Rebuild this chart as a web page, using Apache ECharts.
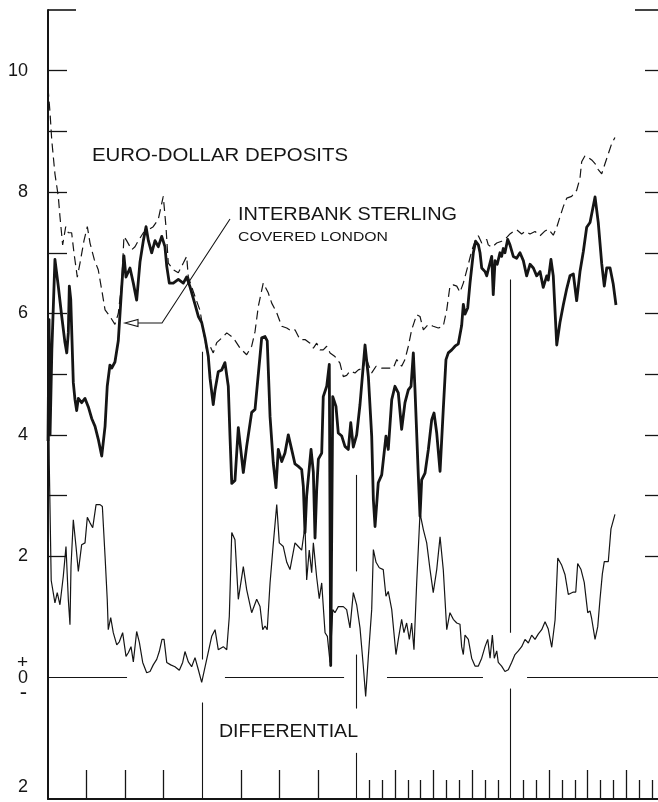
<!DOCTYPE html>
<html><head><meta charset="utf-8">
<script src="https://cdn.jsdelivr.net/npm/echarts@6/dist/echarts.min.js"></script>
<style>html,body{margin:0;padding:0;background:#fff}#c{width:658px;height:802px}</style>
</head><body><div id="c"></div>
<script>
// x = months from start of chart, y = per cent per annum
const euroDollar = [[0,9.72],[0.16,9.3],[0.29,8.86],[0.54,8.3],[0.8,7.93],[0.93,7.6],[1.14,7.13],[1.38,7.43],[1.58,7.33],[1.84,7.33],[2.02,7.0],[2.28,6.6],[2.49,6.83],[2.8,7.2],[3.06,7.43],[3.27,7.16],[3.6,6.89],[3.91,6.72],[4.18,6.39],[4.44,6.06],[4.82,5.95],[5.21,5.82],[5.47,6.0],[5.74,6.5],[5.91,7.27],[6.12,7.2],[6.51,7.05],[6.77,7.1],[7.03,7.2],[7.42,7.33],[7.81,7.38],[8.19,7.43],[8.58,7.55],[8.97,7.93],[9.18,7.43],[9.36,6.83],[9.75,6.72],[10.14,6.67],[10.53,6.83],[10.79,6.94],[10.92,6.6],[11.18,6.44],[11.44,6.28],[11.83,6.05],[12.1,5.7],[12.35,5.4],[12.61,5.46],[12.86,5.35],[13.13,5.52],[13.64,5.62],[13.91,5.68],[14.42,5.6],[14.94,5.43],[15.46,5.32],[15.85,5.46],[16.11,5.7],[16.37,6.12],[16.75,6.5],[17.14,6.34],[17.41,6.17],[17.8,6.01],[18.19,5.79],[18.58,5.76],[18.96,5.71],[19.22,5.73],[19.61,5.57],[20.0,5.57],[20.39,5.51],[20.65,5.43],[20.91,5.51],[21.17,5.4],[21.42,5.4],[21.69,5.46],[21.95,5.35],[22.33,5.29],[22.72,5.18],[22.98,4.96],[23.24,4.98],[23.5,5.05],[23.89,5.02],[24.15,5.07],[24.54,5.1],[24.72,5.3],[24.93,5.16],[25.19,5.02],[25.53,5.13],[25.97,5.1],[26.48,5.1],[26.87,5.1],[27.14,5.24],[27.52,5.13],[27.78,5.24],[28.04,5.46],[28.3,5.73],[28.69,5.98],[28.95,5.95],[29.21,5.73],[29.6,5.82],[29.98,5.79],[30.37,5.76],[30.76,5.79],[31.03,6.06],[31.28,6.45],[31.54,6.47],[31.81,6.45],[32.06,6.35],[32.32,6.5],[32.71,6.81],[32.97,7.03],[33.23,7.19],[33.49,7.28],[33.75,7.16],[34.14,7.22],[34.26,7.13],[34.53,7.09],[34.92,7.16],[35.3,7.19],[35.69,7.25],[35.95,7.31],[36.21,7.35],[36.47,7.38],[36.86,7.31],[37.12,7.35],[37.51,7.31],[37.9,7.35],[38.29,7.28],[38.68,7.36],[38.93,7.39],[39.32,7.29],[39.59,7.42],[39.84,7.59],[40.1,7.76],[40.37,7.9],[40.75,7.93],[41.14,8.03],[41.4,8.23],[41.53,8.5],[41.79,8.6],[42.05,8.57],[42.31,8.53],[42.57,8.47],[42.82,8.37],[43.09,8.3],[43.35,8.47],[43.6,8.63],[43.87,8.8],[44.12,8.9]];

const sterlingCovered = [[0,3.9],[0.08,5.9],[0.16,4.0],[0.3,5.4],[0.54,6.89],[0.8,6.45],[1.07,5.95],[1.32,5.52],[1.46,5.35],[1.58,5.68],[1.66,6.45],[1.77,6.23],[1.97,4.86],[2.1,4.58],[2.23,4.4],[2.36,4.6],[2.62,4.53],[2.88,4.6],[3.14,4.46],[3.4,4.27],[3.66,4.14],[3.91,3.93],[4.18,3.65],[4.44,4.14],[4.61,4.8],[4.82,5.15],[4.96,5.1],[5.21,5.2],[5.47,5.55],[5.74,6.45],[5.91,6.95],[6.07,6.6],[6.38,6.75],[6.64,6.5],[6.9,6.22],[7.16,6.85],[7.42,7.2],[7.63,7.43],[7.81,7.2],[8.07,7.0],[8.33,7.2],[8.58,7.1],[8.85,7.27],[9.1,7.1],[9.24,6.78],[9.44,6.5],[9.75,6.5],[10.14,6.56],[10.53,6.5],[10.79,6.6],[11.05,6.44],[11.44,6.15],[11.7,5.95],[11.96,5.85],[12.22,5.6],[12.47,5.3],[12.61,4.93],[12.86,4.5],[13.0,4.74],[13.25,5.04],[13.52,5.07],[13.77,5.19],[14.03,4.8],[14.16,3.99],[14.3,3.2],[14.55,3.25],[14.81,4.12],[15.2,3.38],[15.46,3.81],[15.85,4.37],[16.11,4.42],[16.24,4.4],[16.5,5.3],[16.63,5.6],[16.89,5.62],[17.06,5.55],[17.28,4.3],[17.53,3.54],[17.74,3.13],[17.92,3.76],[18.19,3.56],[18.44,3.7],[18.7,4.0],[18.96,3.76],[19.22,3.52],[19.48,3.48],[19.74,3.43],[19.87,3.15],[20.0,2.39],[20.13,3.0],[20.26,3.0],[20.47,3.76],[20.65,3.38],[20.78,2.3],[20.91,3.1],[21.04,3.6],[21.3,3.7],[21.42,4.63],[21.69,4.8],[21.89,5.16],[22.0,0.2],[22.16,4.63],[22.41,4.47],[22.59,4.03],[22.86,3.98],[23.11,3.81],[23.37,3.76],[23.56,4.2],[23.76,3.8],[24.02,4.0],[24.28,4.5],[24.67,5.48],[24.93,4.96],[25.19,3.98],[25.32,2.93],[25.45,2.49],[25.7,3.21],[25.97,3.34],[26.09,3.32],[26.3,3.98],[26.48,3.76],[26.75,4.58],[27.0,4.8],[27.26,4.69],[27.52,4.09],[27.78,4.53],[28.04,4.74],[28.25,4.8],[28.43,5.35],[28.56,4.74],[28.82,3.32],[28.95,2.66],[29.08,3.26],[29.34,3.37],[29.6,3.76],[29.86,4.25],[30.04,4.36],[30.25,4.03],[30.51,3.4],[30.76,4.42],[30.97,5.24],[31.15,5.35],[31.42,5.4],[31.67,5.46],[31.93,5.5],[32.19,5.8],[32.32,6.15],[32.45,5.99],[32.66,6.09],[32.84,6.5],[33.1,7.0],[33.28,7.19],[33.49,7.13],[33.62,7.0],[33.75,6.75],[34.01,6.69],[34.14,6.62],[34.26,6.72],[34.4,6.75],[34.53,6.94],[34.65,6.31],[34.79,6.87],[34.96,6.81],[35.17,7.0],[35.3,6.94],[35.43,7.07],[35.56,7.0],[35.77,7.22],[35.95,7.13],[36.21,6.94],[36.47,6.91],[36.73,7.0],[36.99,6.87],[37.25,6.62],[37.51,6.81],[37.77,6.75],[38.03,6.62],[38.29,6.69],[38.54,6.43],[38.81,6.62],[38.93,6.55],[39.14,6.89],[39.32,6.62],[39.59,5.48],[39.84,5.85],[40.1,6.14],[40.37,6.41],[40.62,6.62],[40.88,6.65],[41.14,6.21],[41.4,6.69],[41.66,7.02],[41.92,7.42],[42.18,7.5],[42.31,7.5],[42.57,7.92],[42.82,7.5],[43.09,6.82],[43.29,6.45],[43.48,6.75],[43.74,6.75],[43.99,6.48],[44.2,6.14]];

const differential = [[0,5.8],[0.1,3.5],[0.25,1.6],[0.54,1.23],[0.72,1.4],[0.93,1.2],[1.19,1.67],[1.4,2.16],[1.58,1.29],[1.71,0.87],[1.79,1.83],[1.97,2.6],[2.18,2.16],[2.36,1.75],[2.62,2.19],[2.88,2.22],[3.06,2.64],[3.27,2.55],[3.48,2.47],[3.74,2.85],[4.05,2.85],[4.23,2.82],[4.44,2.0],[4.61,1.29],[4.69,0.79],[4.88,0.99],[5.08,0.74],[5.35,0.54],[5.55,0.59],[5.81,0.74],[6.07,0.35],[6.25,0.41],[6.46,0.51],[6.64,0.26],[6.9,0.76],[7.11,0.58],[7.37,0.25],[7.68,0.08],[7.94,0.1],[8.19,0.21],[8.46,0.3],[8.66,0.43],[8.87,0.63],[9.03,0.63],[9.24,0.25],[9.55,0.21],[9.88,0.18],[10.22,0.12],[10.48,0.25],[10.66,0.43],[10.92,0.26],[11.18,0.18],[11.44,0.33],[11.7,0.13],[11.96,-0.08],[12.35,0.3],[12.74,0.68],[13.0,0.79],[13.25,0.46],[13.64,0.51],[13.91,0.46],[14.11,1.01],[14.3,2.39],[14.55,2.27],[14.81,1.29],[15.2,1.83],[15.46,1.45],[15.85,1.07],[16.24,1.29],[16.5,1.17],[16.71,0.79],[16.89,0.85],[17.06,0.79],[17.28,1.56],[17.53,2.2],[17.8,2.85],[18.0,2.22],[18.31,2.16],[18.58,1.9],[18.83,1.78],[19.22,2.22],[19.48,2.16],[19.74,2.1],[19.87,2.3],[20.0,2.5],[20.13,1.61],[20.33,2.1],[20.52,1.73],[20.65,2.22],[20.91,1.65],[21.11,1.3],[21.3,1.56],[21.56,0.74],[21.74,0.68],[21.95,0.25],[22.16,1.12],[22.33,1.07],[22.59,1.17],[22.98,1.17],[23.24,1.12],[23.5,0.82],[23.76,1.4],[24.02,1.2],[24.28,0.82],[24.54,0.18],[24.72,-0.31],[24.93,0.35],[25.19,1.12],[25.32,2.11],[25.53,1.9],[25.78,1.81],[26.09,1.78],[26.3,1.34],[26.48,1.42],[26.75,1.12],[27.08,0.38],[27.26,0.63],[27.52,0.96],[27.7,0.74],[27.91,0.9],[28.12,0.63],[28.3,0.9],[28.48,0.46],[28.69,1.56],[28.95,2.71],[29.21,2.44],[29.47,2.22],[29.73,1.78],[29.98,1.4],[30.25,1.78],[30.51,2.32],[30.76,1.78],[31.03,0.79],[31.28,1.07],[31.54,0.96],[31.81,0.9],[32.06,0.88],[32.19,0.51],[32.32,0.38],[32.45,0.7],[32.71,0.63],[32.97,0.32],[33.23,0.19],[33.49,0.19],[33.75,0.32],[34.01,0.51],[34.22,0.63],[34.4,0.32],[34.58,0.7],[34.73,0.32],[34.92,0.44],[35.04,0.25],[35.3,0.19],[35.56,0.1],[35.82,0.13],[36.08,0.25],[36.34,0.38],[36.6,0.44],[36.86,0.51],[37.12,0.63],[37.38,0.57],[37.64,0.7],[37.9,0.63],[38.16,0.72],[38.42,0.79],[38.68,0.92],[38.93,0.8],[39.2,0.5],[39.46,0.95],[39.67,1.97],[39.98,1.85],[40.23,1.7],[40.49,1.37],[40.88,1.41],[41.07,1.41],[41.22,1.88],[41.48,1.78],[41.73,1.57],[42.0,1.07],[42.18,1.1],[42.31,0.97],[42.57,0.63],[42.78,0.84],[42.96,1.3],[43.14,1.71],[43.29,1.91],[43.6,1.91],[43.81,2.45],[44.12,2.69]];

// axes
const xMin = 0, xMax = 47.47;
const yMin = -2, yMax = 11;
const yLabelValues = [10, 8, 6, 4, 2, 0, -2];
const yLabelTexts  = ['10', '8', '6', '4', '2', '0', '2'];
const yTickValues = [2, 3, 4, 5, 6, 7, 8, 9, 10];
const quarterTicks = [3, 6, 9, 15, 18, 21, 27, 30, 33, 39, 42, 45];
const monthTicks = [25, 26, 28, 29, 31, 32, 34, 35, 37, 38, 40, 41, 43, 44, 46, 47];
const yearLines = [[12, -2, -0.41], [12, 0.3, 5.37], [24, -2, -1.24], [24, -0.51, 0.38], [24, 1.75, 3.34], [36, -2, -0.18], [36, 0.74, 6.56]];
const zeroLineSegments = [[0, 6.15], [13.77, 23.04], [26.38, 33.85], [37.28, 47.47]];

// annotations
const notes = [
  {text: 'EURO-DOLLAR DEPOSITS', x: 92, y: 156, size: 18, width: 256},
  {text: 'INTERBANK STERLING', x: 238, y: 215, size: 18.5, width: 219},
  {text: 'COVERED LONDON', x: 238, y: 237, size: 13.5, width: 150},
  {text: 'DIFFERENTIAL', x: 219, y: 732, size: 18, width: 139}
];

const GRID = {left: 48, right: 0, top: 10, bottom: 3};
const W = 658, H = 802;
const pxX = (W - GRID.left - GRID.right) / (xMax - xMin);
const pxY = (H - GRID.top - GRID.bottom) / (yMax - yMin);
const FONT = '"Liberation Sans", Arial, sans-serif';
const INK = '#151515';

const seg = (x1, y1, x2, y2, w) => [{coord: [x1, y1], lineStyle: {width: w || 1, color: INK, type: 'solid'}}, {coord: [x2, y2]}];
const decor = [];
yTickValues.forEach(v => {
  decor.push(seg(xMin, v, xMin + 19 / pxX, v, 1.3));
  decor.push(seg(xMax - 13 / pxX, v, xMax, v, 1.3));
});
decor.push(seg(xMin, yMax, xMin + 28 / pxX, yMax, 1.6));
decor.push(seg(xMax - 23 / pxX, yMax, xMax, yMax, 1.6));
quarterTicks.forEach(m => decor.push(seg(m, yMin, m, yMin + 29 / pxY, 1.3)));
monthTicks.forEach(m => decor.push(seg(m, yMin, m, yMin + 19 / pxY, 1.3)));
yearLines.forEach(s => decor.push(seg(s[0], s[1], s[0], s[2], 1.1)));
zeroLineSegments.forEach(s => decor.push(seg(s[0], 0, s[1], 0, 1.1)));

const chart = echarts.init(document.getElementById('c'), null, {renderer: 'canvas'});

const measure = (() => {
  const ctx = document.createElement('canvas').getContext('2d');
  return (t, size) => { ctx.font = size + 'px ' + FONT; return ctx.measureText(t).width; };
})();

const graphics = notes.map(n => ({
  type: 'text', x: n.x, y: n.y, scaleX: n.width / measure(n.text, n.size),
  style: {text: n.text, font: n.size + 'px ' + FONT, fill: INK, verticalAlign: 'middle', align: 'left'}
}));
// arrow from label to the sterling line
graphics.push({type: 'polyline', shape: {points: [[230, 219], [162, 323], [137, 323]]}, style: {stroke: INK, lineWidth: 1.1, fill: null}});
graphics.push({type: 'polygon', shape: {points: [[125, 323], [138, 319.5], [138, 326.5]]}, style: {stroke: INK, lineWidth: 1.1, fill: '#fff'}});

chart.setOption({
  animation: false,
  backgroundColor: '#fff',
  grid: {left: GRID.left, right: GRID.right, top: GRID.top, bottom: GRID.bottom, containLabel: false},
  xAxis: {
    type: 'value', min: xMin, max: xMax,
    axisLine: {show: true, onZero: false, lineStyle: {color: INK, width: 2}},
    axisTick: {show: false}, axisLabel: {show: false}, splitLine: {show: false}
  },
  yAxis: {
    type: 'value', min: yMin, max: yMax, interval: 1,
    axisLine: {show: true, onZero: false, lineStyle: {color: INK, width: 2}},
    axisTick: {show: false}, splitLine: {show: false},
    axisLabel: {
      margin: 20, color: INK, fontFamily: FONT, fontSize: 18,
      formatter: v => {
        const i = yLabelValues.indexOf(v);
        if (i < 0) return '';
        if (v === 0) return '{p|+}\n{z|' + yLabelTexts[i] + '}\n{m|-}';
        if (v === yMin) return '{lo|' + yLabelTexts[i] + '}';
        return yLabelTexts[i];
      },
      rich: {
        p: {fontSize: 19, lineHeight: 15, fontFamily: FONT, color: INK, align: 'right'},
        z: {fontSize: 18, lineHeight: 15, fontFamily: FONT, color: INK, align: 'right'},
        m: {fontSize: 22, lineHeight: 15, fontFamily: FONT, color: INK, align: 'right', padding: [0, 1, 0, 0]},
        lo: {fontSize: 18, fontFamily: FONT, color: INK, padding: [0, 0, 24, 0]}
      }
    }
  },
  graphic: graphics,
  series: [
    {
      name: 'Euro-dollar deposits', type: 'line', data: euroDollar, symbol: 'none', z: 3,
      lineStyle: {color: INK, width: 1.2, type: [9, 5]}
    },
    {
      name: 'Differential', type: 'line', data: differential, symbol: 'none', z: 2,
      lineStyle: {color: INK, width: 1.2},
      markLine: {silent: true, symbol: ['none', 'none'], label: {show: false}, animation: false, data: decor}
    },
    {
      name: 'Interbank sterling covered London', type: 'line', data: sterlingCovered, symbol: 'none', z: 4,
      lineStyle: {color: INK, width: 2.8, join: 'round'}
    }
  ]
});
</script>
</body></html>
